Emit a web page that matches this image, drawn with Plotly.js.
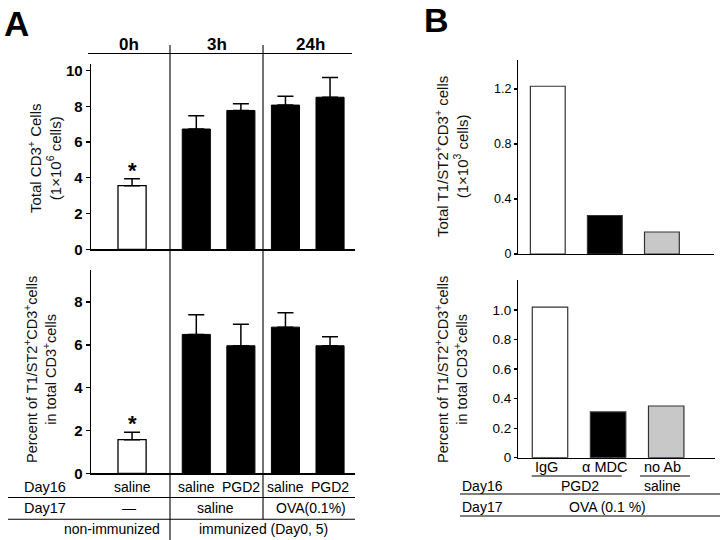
<!DOCTYPE html>
<html>
<head>
<meta charset="utf-8">
<script src="https://cdn.plot.ly/plotly-3.0.1.min.js"></script>
<style>html,body{margin:0;padding:0;background:#fff;}#chart{width:720px;height:540px;}</style>
</head>
<body>
<div id="chart"></div>
<script>
// ---------------- DATA ----------------
const timeHeaders = ['0h', '3h', '24h'];
const catsNonImm = ['non-immunized saline'];
const catsImm = ['3h saline', '3h PGD2', '24h saline', '24h PGD2'];
const day16LabelsNonImm = ['saline'];
const day16LabelsImm = ['saline', 'PGD2', 'saline', 'PGD2'];
const day17LabelsA = ['—', 'saline', 'OVA(0.1%)'];
const immunLabelsA = ['non-immunized', 'immunized (Day0, 5)'];

// Panel A top: Total CD3+ cells (x10^6)
const totalCD3NonImm = [3.56];
const totalCD3NonImmSem = [0.39];
const totalCD3Imm = [6.73, 7.77, 8.07, 8.51];
const totalCD3ImmSem = [0.74, 0.38, 0.50, 1.10];

// Panel A bottom: Percent of T1/ST2+CD3+ cells
const pctNonImm = [1.57];
const pctNonImmSem = [0.35];
const pctImm = [6.49, 5.96, 6.83, 5.96];
const pctImmSem = [0.92, 1.01, 0.67, 0.42];

// Panel B
const catsB = ['IgG', 'α MDC', 'no Ab'];
const totalT1B = [1.22, 0.28, 0.16];
const pctT1B = [1.02, 0.31, 0.35];
const day16LabelsB = ['PGD2', 'saline'];
const day17LabelB = ['OVA (0.1 %)'];

// ---------------- LAYOUT HELPERS ----------------
const FONT = 'Liberation Sans, Arial, Helvetica, sans-serif';
const X = px => px / 720;
const Y = py => 1 - py / 540;
const zeros = a => a.map(() => 0);

const errStyle = (arr) => ({type: 'data', array: arr, arrayminus: zeros(arr), symmetric: false,
  visible: true, color: '#000', thickness: 1.5, width: 8});

const traces = [
  {type: 'bar', x: catsNonImm, y: totalCD3NonImm, xaxis: 'x2', yaxis: 'y', width: 0.63,
   marker: {color: '#fff', line: {color: '#000', width: 1.3}}, error_y: errStyle(totalCD3NonImmSem)},
  {type: 'bar', x: catsImm, y: totalCD3Imm, xaxis: 'x', yaxis: 'y', width: 0.63,
   marker: {color: '#000', line: {color: '#000', width: 1}}, error_y: errStyle(totalCD3ImmSem)},
  {type: 'bar', x: catsNonImm, y: pctNonImm, xaxis: 'x4', yaxis: 'y2', width: 0.63,
   marker: {color: '#fff', line: {color: '#000', width: 1.3}}, error_y: errStyle(pctNonImmSem)},
  {type: 'bar', x: catsImm, y: pctImm, xaxis: 'x3', yaxis: 'y2', width: 0.63,
   marker: {color: '#000', line: {color: '#000', width: 1}}, error_y: errStyle(pctImmSem)},
  {type: 'bar', x: catsB, y: totalT1B, xaxis: 'x5', yaxis: 'y3', width: 0.61,
   marker: {color: ['#ffffff', '#000000', '#c8c8c8'], line: {color: '#333', width: 1.2}}},
  {type: 'bar', x: catsB, y: pctT1B, xaxis: 'x6', yaxis: 'y4', width: 0.61,
   marker: {color: ['#ffffff', '#000000', '#c8c8c8'], line: {color: '#333', width: 1.2}}}
];

const xHidden = (domain, anchor, range) => ({domain, anchor, range, type: 'category',
  showline: true, linecolor: '#000', linewidth: 1.3, showticklabels: false, ticks: '',
  showgrid: false, zeroline: false, fixedrange: true});

const yAxis = (domain, anchor, range, dtick, tickfont, tickformat) => ({domain, anchor, range,
  showline: true, linecolor: '#000', linewidth: 1.3, ticks: 'outside', ticklen: 4, tickwidth: 1.3,
  tickcolor: '#000', dtick, tick0: 0, tickfont, showgrid: false, zeroline: false, tickformat,
  ticklabelstandoff: 0});

const boldTick = {family: FONT, size: 15, color: '#000', weight: 'bold'};
const normTick = {family: FONT, size: 12.5, color: '#000'};

const shapes = [];
const line = (x0, y0, x1, y1, w) => shapes.push({type: 'line', xref: 'paper', yref: 'paper',
  x0: X(x0), y0: Y(y0), x1: X(x1), y1: Y(y1), line: {color: '#000', width: w || 1.1}});
// Panel A header / section lines
line(88, 53.5, 352, 53.5);
line(170, 45, 170, 540);
line(263, 45, 263, 519.3);
// Panel A table lines
line(8, 497.5, 355, 497.5);
line(8, 519.3, 355, 519.3);
// Panel B table lines
line(460, 494, 720, 494);
line(460, 516, 720, 516);
line(531.7, 476, 621.7, 476);
line(640, 476, 690, 476);

const ann = [];
const txt = (text, x, y, size, opts) => ann.push(Object.assign({text, x: X(x), y: Y(y),
  xref: 'paper', yref: 'paper', showarrow: false, xanchor: 'center', yanchor: 'middle',
  font: {family: FONT, size, color: '#000'}}, opts || {}));

// Panel letters
txt('A', 16.5, 24, 35, {font: {family: FONT, size: 35, color: '#000', weight: 'bold'}});
txt('B', 437, 20, 34, {font: {family: FONT, size: 34, color: '#000', weight: 'bold'}});
// Time headers
[129, 217, 310].forEach((px, i) => txt(timeHeaders[i], px, 44, 17,
  {font: {family: FONT, size: 17, color: '#000', weight: 'bold'}}));

// Y titles (rotated)
const ytitle = (text, x, y, size) => txt(text, x, y, size, {textangle: -90,
  font: {family: FONT, size, color: '#111'}});
ytitle('Total CD3<sup>+</sup> Cells<br>(1×10<sup>6</sup> cells)', 45, 158, 15);
ytitle('Percent of T1/ST2<sup>+</sup>CD3<sup>+</sup>cells<br>in total CD3<sup>+</sup>cells', 40, 370, 14.5);
ytitle('Total T1/ST2<sup>+</sup>CD3<sup>+</sup> cells<br>(1×10<sup>3</sup> cells)', 451, 157, 15);
ytitle('Percent of T1/ST2<sup>+</sup>CD3<sup>+</sup>cells<br>in total CD3<sup>+</sup>cells', 451, 370, 14.5);

// Asterisks over non-immunized bars
ann.push({text: '*', xref: 'x2', yref: 'y', x: catsNonImm[0], y: totalCD3NonImm[0] + totalCD3NonImmSem[0],
  yanchor: 'bottom', showarrow: false, yshift: -6, font: {family: FONT, size: 22, color: '#000', weight: 'bold'}});
ann.push({text: '*', xref: 'x4', yref: 'y2', x: catsNonImm[0], y: pctNonImm[0] + pctNonImmSem[0],
  yanchor: 'bottom', showarrow: false, yshift: -6, font: {family: FONT, size: 22, color: '#000', weight: 'bold'}});

// Panel A table
txt('Day16', 22, 487, 14.5, {xanchor: 'left'});
txt('Day17', 22, 508, 14.5, {xanchor: 'left'});
ann.push({text: day16LabelsNonImm[0], xref: 'x4', yref: 'paper', x: catsNonImm[0], y: Y(487),
  showarrow: false, yanchor: 'middle', font: {family: FONT, size: 14, color: '#000'}});
catsImm.forEach((c, i) => ann.push({text: day16LabelsImm[i], xref: 'x3', yref: 'paper', x: c, y: Y(487),
  showarrow: false, yanchor: 'middle', font: {family: FONT, size: 14, color: '#000'}}));
[129, 215, 311].forEach((px, i) => txt(day17LabelsA[i], px, 508, 14));
[112, 263].forEach((px, i) => txt(immunLabelsA[i], px, 529, 14));

// Panel B table
catsB.forEach((c, i) => ann.push({text: c, xref: 'x6', yref: 'paper', x: c, y: Y(466.5), xshift: -4,
  showarrow: false, yanchor: 'middle', font: {family: FONT, size: 14.5, color: '#000'}}));
txt('Day16', 460, 486, 14, {xanchor: 'left'});
txt('Day17', 460, 507, 14, {xanchor: 'left'});
[580, 662].forEach((px, i) => txt(day16LabelsB[i], px, 486, 14));
txt(day17LabelB[0], 607, 507, 14);

const layout = {
  width: 720, height: 540, margin: {l: 0, r: 0, t: 0, b: 0},
  paper_bgcolor: '#fff', plot_bgcolor: 'rgba(0,0,0,0)', showlegend: false,
  font: {family: FONT, color: '#000'},
  xaxis: xHidden([X(170), X(355)], 'y', [-0.59, 3.56]),
  xaxis2: xHidden([X(91), X(170)], 'y', [-0.92, 0.85]),
  xaxis3: xHidden([X(170), X(355)], 'y2', [-0.59, 3.56]),
  xaxis4: xHidden([X(91), X(170)], 'y2', [-0.92, 0.85]),
  xaxis5: xHidden([X(518), X(714)], 'y3', [-0.522, 2.913]),
  xaxis6: xHidden([X(518), X(715)], 'y4', [-0.551, 2.84]),
  yaxis: yAxis([Y(249.3), Y(64)], 'x2', [0, 10.37], 2, boldTick),
  yaxis2: yAxis([Y(473.3), Y(270)], 'x4', [0, 9.5], 2, boldTick),
  yaxis3: yAxis([Y(254), Y(60)], 'x5', [0, 1.411], 0.4, normTick, '.1~f'),
  yaxis4: yAxis([Y(457.7), Y(280)], 'x6', [0, 1.203], 0.2, Object.assign({}, normTick, {size: 13.5})),
  shapes, annotations: ann, bargap: 0.37
};
layout.yaxis3.tickvals = [0, 0.4, 0.8, 1.2];
layout.yaxis3.ticktext = ['0', '0.4', '0.8', '1.2'];
layout.yaxis4.tickvals = [0, 0.2, 0.4, 0.6, 0.8, 1.0];
layout.yaxis4.ticktext = ['0', '0.2', '0.4', '0.6', '0.8', '1.0'];
layout.yaxis3.ticklen = 3; layout.yaxis4.ticklen = 3;
layout.yaxis3.linewidth = 1.1; layout.yaxis4.linewidth = 1.1;
layout.xaxis5.linewidth = 1.1; layout.xaxis6.linewidth = 1.1;

Plotly.newPlot('chart', traces, layout, {staticPlot: true, displayModeBar: false});
</script>
</body>
</html>
